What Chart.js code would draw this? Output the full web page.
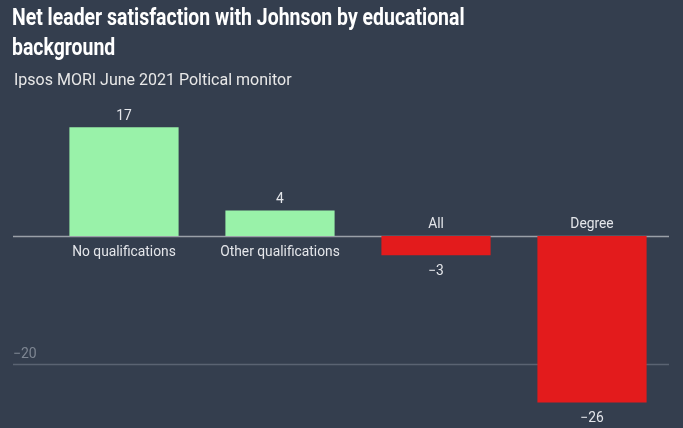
<!DOCTYPE html>
<html lang="en">
<head>
    <meta charset="UTF-8">
    <title>Net leader satisfaction with Johnson</title>
    <script src="https://cdn.jsdelivr.net/npm/chart.js@4.4.0/dist/chart.umd.min.js"></script>
    <style>
        html, body { margin: 0; padding: 0; background: #343e4e; }
        #wrap { position: relative; width: 683px; height: 428px; overflow: hidden; }
        #myChart { position: absolute; left: 0; top: 0; }
        .title { position: absolute; left: 12px; top: 2px; color: #fff; font: bold 24px Roboto, sans-serif;
                 line-height: 30px; transform: scaleX(0.81); transform-origin: left top; width: 840px; }
        .sub { position: absolute; left: 14px; top: 70px; color: #e8e8e8; font: 16px Roboto, sans-serif;
               white-space: nowrap; }
    </style>
</head>
<body>
<div id="wrap">
    <canvas id="myChart" width="683" height="428"></canvas>
    <div class="title">Net leader satisfaction with Johnson by educational<br>background</div>
    <div class="sub">Ipsos MORI June 2021 Poltical monitor</div>
</div>
<script>
    var categories = ['No qualifications', 'Other qualifications', 'All', 'Degree'];
    var values = [17, 4, -3, -26];
    var gridValues = [0, -20];
    var tickLabels = ['', '\u221220'];

    function fmt(v) {
        return v < 0 ? '\u2212' + Math.abs(v) : String(v);
    }

    // gridlines + labels drawn from the scales
    var decor = {
        id: 'decor',
        beforeDatasetsDraw: function (chart) {
            var ctx = chart.ctx, y = chart.scales.y;
            ctx.save();
            gridValues.forEach(function (g, i) {
                var py = Math.round(y.getPixelForValue(g)) + 0.5;
                ctx.strokeStyle = g === 0 ? '#9aa0a8' : '#5a6372';
                ctx.lineWidth = 1.5;
                ctx.beginPath();
                ctx.moveTo(13, py);
                ctx.lineTo(669, py);
                ctx.stroke();
                if (tickLabels[i]) {
                    ctx.fillStyle = '#7e8692';
                    ctx.font = '14px Roboto, sans-serif';
                    ctx.textAlign = 'left';
                    ctx.textBaseline = 'bottom';
                    ctx.fillText(tickLabels[i], 13, py - 3);
                }
            });
            ctx.restore();
        },
        afterDatasetsDraw: function (chart) {
            var ctx = chart.ctx, y = chart.scales.y;
            var zero = y.getPixelForValue(0);
            ctx.save();
            ctx.font = '13.8px Roboto, sans-serif';
            ctx.textAlign = 'center';
            chart.getDatasetMeta(0).data.forEach(function (bar, i) {
                var v = values[i];
                ctx.fillStyle = '#e4e6ea';
                if (v >= 0) {
                    ctx.textBaseline = 'bottom';
                    ctx.fillText(fmt(v), bar.x, bar.y - 4);
                    ctx.textBaseline = 'top';
                    ctx.fillText(categories[i], bar.x, zero + 10);
                } else {
                    ctx.textBaseline = 'top';
                    ctx.fillText(fmt(v), bar.x, bar.y + 9);
                    ctx.textBaseline = 'bottom';
                    ctx.fillText(categories[i], bar.x, zero - 5);
                }
            });
            ctx.restore();
        }
    };

    var ctx = document.getElementById('myChart').getContext('2d');
    var chart = new Chart(ctx, {
        type: 'bar',
        data: {
            labels: categories,
            datasets: [{
                data: values,
                backgroundColor: values.map(function (v) { return v >= 0 ? '#99f2a9' : '#e31b1c'; }),
                borderWidth: 0,
                barPercentage: 0.7,
                categoryPercentage: 1
            }]
        },
        options: {
            responsive: false,
            animation: false,
            layout: { padding: { left: 46, right: 13, top: 108, bottom: 0 } },
            plugins: { legend: { display: false }, tooltip: { enabled: false } },
            scales: {
                x: { display: false },
                y: { display: false, min: -30, max: 20 }
            }
        },
        plugins: [decor]
    });
</script>
</body>
</html>
